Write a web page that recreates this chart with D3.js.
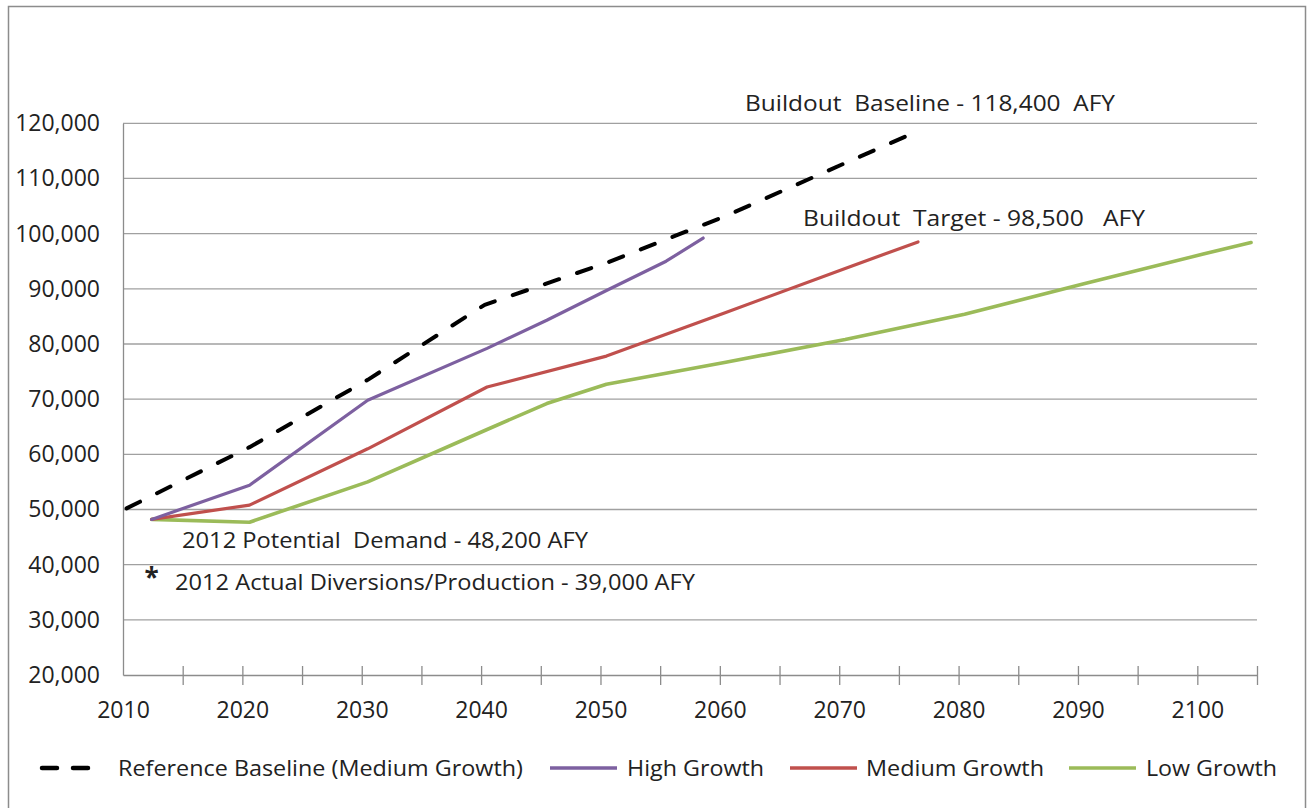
<!DOCTYPE html>
<html>
<head>
<meta charset="utf-8">
<script src="https://cdn.jsdelivr.net/npm/d3@7"></script>
<style>
  html, body { margin: 0; padding: 0; background: #fff; }
  svg { display: block; font-family: "Open Sans", "Noto Sans", sans-serif; }
  text { white-space: pre; }
</style>
</head>
<body>
<svg id="chart" width="1308" height="808"></svg>
<script>
// Water demand projections (acre-feet per year), plotted at mid-year positions
const baselineYears  = [2010.3, 2020.6, 2030.5, 2040.3, 2050.5, 2060.5, 2070.5, 2076.4];
const baselineValues = [50200, 61300, 73500, 87100, 94700, 103200, 112800, 118400];

const highYears  = [2012.4, 2020.6, 2030.5, 2040.5, 2045.5, 2050.5, 2055.5, 2058.6];
const highValues = [48200, 54400, 69800, 79200, 84300, 89700, 95000, 99200];

const mediumYears  = [2012.4, 2020.6, 2030.5, 2040.5, 2050.5, 2060.5, 2070.5, 2076.6];
const mediumValues = [48200, 50800, 61000, 72200, 77800, 85700, 93700, 98500];

const lowYears  = [2012.4, 2020.6, 2030.5, 2040.5, 2045.5, 2050.5, 2060.5, 2070.5, 2080.5, 2090.5, 2100.5, 2104.5];
const lowValues = [48200, 47700, 55000, 64500, 69200, 72700, 76700, 80800, 85400, 90900, 96300, 98400];

// 2012 actual diversions / production
const actualYear  = 2012.4;
const actualValue = 39000;

const xTickYears  = d3.range(2010, 2106, 5);
const yTickValues = d3.range(20000, 120001, 10000);

const seriesNames  = ["Reference Baseline (Medium Growth)", "High Growth", "Medium Growth", "Low Growth"];
const seriesColors = ["#000000", "#7d60a0", "#c0504d", "#9bbb59"];

const svg = d3.select("#chart");

// outer frame
svg.append("rect")
  .attr("x", 8.5).attr("y", 6.5)
  .attr("width", 1297).attr("height", 830)
  .attr("fill", "none").attr("stroke", "#8c8c8c").attr("stroke-width", 1.5);

const x = d3.scaleLinear().domain([2010, 2105]).range([123, 1257]);
const y = d3.scaleLinear().domain([20000, 120000]).range([675, 123.3]);

// horizontal gridlines
svg.append("g")
  .selectAll("line")
  .data(yTickValues.filter(v => v > 20000))
  .join("line")
  .attr("x1", x(2010)).attr("x2", x(2105))
  .attr("y1", d => y(d)).attr("y2", d => y(d))
  .attr("stroke", "#a0a0a0").attr("stroke-width", 1.3);

// y axis
const yAxis = svg.append("g")
  .attr("transform", `translate(${x(2010)},0)`)
  .call(d3.axisLeft(y).tickValues(yTickValues).tickSize(0).tickPadding(23).tickFormat(d3.format(",")));
yAxis.select(".domain").attr("stroke", "#8c8c8c").attr("stroke-width", 1.3);
yAxis.selectAll("text").attr("font-size", 23).attr("fill", "#222").attr("font-family", "Open Sans");

// x axis with crossing ticks every 5 years, labels every 10
const xAxis = svg.append("g")
  .attr("transform", `translate(0,${y(20000)})`)
  .call(d3.axisBottom(x).tickValues(xTickYears).tickSize(0).tickSizeOuter(0)
    .tickFormat(d => d % 10 === 0 ? String(d) : ""));
xAxis.select(".domain").attr("stroke", "#8c8c8c").attr("stroke-width", 1.3);
xAxis.selectAll(".tick line").attr("y1", -9).attr("y2", 10)
  .attr("stroke", "#8c8c8c").attr("stroke-width", 1.3);
xAxis.selectAll(".tick").filter(d => d === 2010).select("line").remove();
xAxis.selectAll("text").attr("font-size", 23).attr("fill", "#222")
  .attr("font-family", "Open Sans").attr("y", 0).attr("dy", 43);

const line = d3.line().x(d => x(d[0])).y(d => y(d[1]));
const zipSeries = (ys, vs) => ys.map((yr, i) => [yr, vs[i]]);

const series = [
  { pts: zipSeries(baselineYears, baselineValues), color: seriesColors[0], width: 4, dash: "15,19" },
  { pts: zipSeries(highYears, highValues), color: seriesColors[1], width: 3.2, dash: null },
  { pts: zipSeries(mediumYears, mediumValues), color: seriesColors[2], width: 3.2, dash: null },
  { pts: zipSeries(lowYears, lowValues), color: seriesColors[3], width: 3.6, dash: null }
];

// draw low first so higher series sit on top, baseline last
[3, 2, 1, 0].forEach(i => {
  const s = series[i];
  svg.append("path")
    .datum(s.pts)
    .attr("d", line)
    .attr("fill", "none")
    .attr("stroke", s.color)
    .attr("stroke-width", s.width)
    .attr("stroke-linejoin", "round")
    .attr("stroke-linecap", "round")
    .attr("stroke-dasharray", s.dash);
});

// 2012 actual point marker
svg.append("text")
  .attr("x", x(actualYear)).attr("y", y(actualValue) + 17)
  .attr("text-anchor", "middle")
  .attr("font-size", 26).attr("font-weight", "bold").attr("fill", "#222")
  .text("*");

// annotations
const notes = [
  { text: "Buildout  Baseline - 118,400  AFY", x: 745, y: 111, w: 370 },
  { text: "Buildout  Target - 98,500   AFY", x: 803, y: 226, w: 342 },
  { text: "2012 Potential  Demand - 48,200 AFY", x: 182, y: 548, w: 406 },
  { text: "2012 Actual Diversions/Production - 39,000 AFY", x: 175, y: 590, w: 520 }
];
svg.append("g").selectAll("text")
  .data(notes)
  .join("text")
  .attr("x", d => d.x).attr("y", d => d.y)
  .attr("font-size", 22).attr("fill", "#222")
  .attr("textLength", d => d.w).attr("lengthAdjust", "spacingAndGlyphs")
  .text(d => d.text);

// legend
const legendItems = [
  { sx: 42, ex: 90, tx: 118, tw: 405 },
  { sx: 550, ex: 617, tx: 627, tw: 137 },
  { sx: 790, ex: 857, tx: 866, tw: 178 },
  { sx: 1069, ex: 1136, tx: 1146, tw: 131 }
];
const legendY = 768;
const lg = svg.append("g");
legendItems.forEach((it, i) => {
  const s = series[i];
  lg.append("line")
    .attr("x1", it.sx).attr("x2", it.ex)
    .attr("y1", legendY).attr("y2", legendY)
    .attr("stroke", s.color)
    .attr("stroke-width", i === 0 ? 4.5 : 3.6)
    .attr("stroke-dasharray", i === 0 ? "15,16" : null)
    .attr("stroke-linecap", i === 0 ? "round" : "butt");
  lg.append("text")
    .attr("x", it.tx).attr("y", legendY + 8)
    .attr("font-size", 22).attr("fill", "#222")
    .attr("textLength", it.tw).attr("lengthAdjust", "spacingAndGlyphs")
    .text(seriesNames[i]);
});
</script>
</body>
</html>
